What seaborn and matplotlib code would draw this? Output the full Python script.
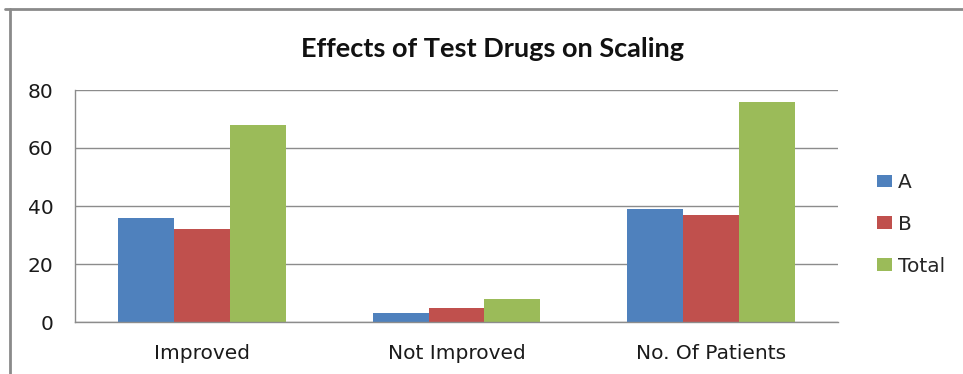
import matplotlib
matplotlib.use("Agg")
import matplotlib.pyplot as plt
from matplotlib.lines import Line2D
import pandas as pd
import seaborn as sns

categories = ["Improved", "Not Improved", "No. Of Patients"]
series_names = ["A", "B", "Total"]
values_a = [36, 3, 39]
values_b = [32, 5, 37]
values_total = [68, 8, 76]
y_ticks = [0, 20, 40, 60, 80]
title = "Effects of Test Drugs on Scaling"

colors = ["#4F81BD", "#C0504D", "#9BBB59"]

df = pd.DataFrame({
    "category": categories * 3,
    "series": [s for s in series_names for _ in categories],
    "value": values_a + values_b + values_total,
})

sns.set_theme(style="white")
plt.rcParams["font.family"] = ["DejaVu Sans"]

fig = plt.figure(figsize=(9.63, 3.74), dpi=100)
ax = fig.add_axes([75 / 963, 1 - 322 / 374, (838 - 75) / 963, (322 - 90) / 374])

sns.barplot(data=df, x="category", y="value", hue="series", order=categories,
            hue_order=series_names, palette=colors, width=0.66, gap=0,
            saturation=1, linewidth=0, ax=ax, legend=True)

ax.set_ylim(0, 80)
ax.set_yticks(y_ticks)
ax.yaxis.grid(True, color="#8c8c8c", linewidth=1)
ax.set_axisbelow(True)
ax.set_xlabel("")
ax.set_ylabel("")
for side in ["top", "right"]:
    ax.spines[side].set_visible(False)
for side in ["left", "bottom"]:
    ax.spines[side].set_color("#8c8c8c")
    ax.spines[side].set_linewidth(1)
ax.tick_params(axis="y", length=0, pad=15.5, labelsize=14.5, labelcolor="#1a1a1a")
ax.tick_params(axis="x", length=0, pad=15.5, labelsize=14.5, labelcolor="#1a1a1a")

handles, labels = ax.get_legend_handles_labels()
ax.legend(handles, labels, loc="upper left", bbox_to_anchor=(877 / 963, 1 - 173 / 374),
          bbox_transform=fig.transFigure, frameon=False, fontsize=14.5,
          handlelength=0.75, handleheight=0.6, handletextpad=0.3,
          labelspacing=1.13, borderaxespad=0, borderpad=0)

fig.text(492.5 / 963, 1 - 57.3 / 374, title, ha="center", va="baseline",
         fontsize=19.5, fontweight="bold", family=["Lato", "DejaVu Sans"], color="#111111")

# outer chart frame (top and left edges)
fig.add_artist(Line2D([5 / 963, 1], [1 - 9 / 374, 1 - 9 / 374],
                      transform=fig.transFigure, color="#8a8a8a", linewidth=2))
fig.add_artist(Line2D([10 / 963, 10 / 963], [0, 1 - 9 / 374],
                      transform=fig.transFigure, color="#8a8a8a", linewidth=2))

fig.savefig("out.png", dpi=100, facecolor="white")
